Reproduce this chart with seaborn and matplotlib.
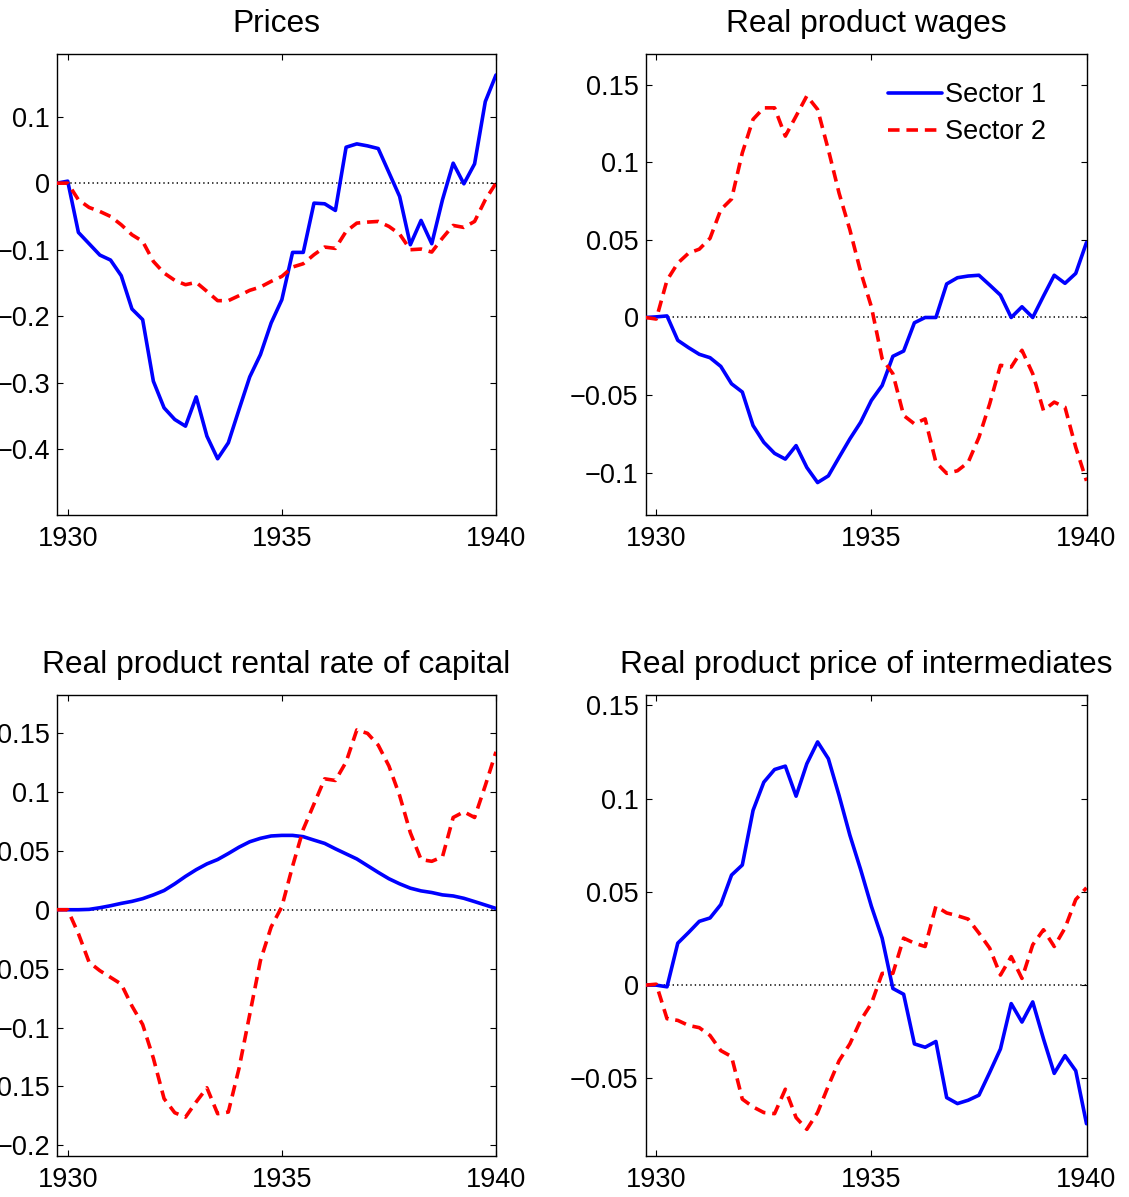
import numpy as np
import pandas as pd
import matplotlib
matplotlib.use("Agg")
import matplotlib.pyplot as plt
import seaborn as sns
from matplotlib.ticker import FuncFormatter, FixedLocator

# ---------------- data (quarterly, 1929Q4 .. 1940Q1) ----------------
quarters = np.arange(1929.75, 1940.001, 0.25)

prices_s1 = [0.0, 0.003, -0.074, -0.091, -0.108, -0.1155, -0.139, -0.189, -0.205, -0.2975,
             -0.3375, -0.355, -0.365, -0.321, -0.38, -0.414, -0.39, -0.34, -0.291, -0.2575,
             -0.21, -0.175, -0.104, -0.104, -0.03, -0.031, -0.041, 0.054, 0.059, 0.056,
             0.052, 0.016, -0.02, -0.0925, -0.056, -0.091, -0.025, 0.030, -0.001, 0.029,
             0.1225, 0.1625]
prices_s2 = [0.0, 0.0, -0.025, -0.0365, -0.0425, -0.05, -0.0625, -0.0775, -0.0875, -0.1175,
             -0.135, -0.146, -0.1525, -0.149, -0.1625, -0.1765, -0.1765, -0.169, -0.161, -0.156,
             -0.1475, -0.14, -0.126, -0.121, -0.1075, -0.096, -0.098, -0.0725, -0.06, -0.0585,
             -0.0575, -0.065, -0.0765, -0.1, -0.099, -0.1035, -0.0825, -0.0635, -0.0665, -0.0575,
             -0.025, 0.0]

wages_s1 = [0.0, 0.0004, 0.001, -0.0147, -0.0194, -0.0237, -0.0259, -0.0315, -0.0427, -0.048,
            -0.0696, -0.0804, -0.0875, -0.0912, -0.0825, -0.0966, -0.1063, -0.102, -0.090, -0.0782,
            -0.0675, -0.0534, -0.0438, -0.025, -0.0216, -0.0034, 0.0, 0.0, 0.0216, 0.0256,
            0.0267, 0.0272, 0.0209, 0.0144, 0.0, 0.0069, 0.0, 0.0138, 0.0272, 0.022,
            0.0284, 0.0483]
wages_s2 = [0.0, -0.001, 0.024, 0.035, 0.0414, 0.044, 0.051, 0.0694, 0.0763, 0.106,
            0.1276, 0.135, 0.135, 0.1168, 0.1297, 0.1427, 0.134, 0.108, 0.080, 0.0565,
            0.0295, 0.0069, -0.0265, -0.0362, -0.0631, -0.0685, -0.0653, -0.0933, -0.1004, -0.0987,
            -0.0933, -0.0772, -0.0556, -0.0308, -0.0319, -0.0211, -0.0362, -0.0599, -0.0545, -0.0578,
            -0.0836, -0.1052]

rental_s1 = [0.0, 0.0, 0.0, 0.0003, 0.0017, 0.0034, 0.0054, 0.0071, 0.0094, 0.0126,
             0.0163, 0.022, 0.0283, 0.034, 0.0389, 0.0426, 0.0477, 0.0531, 0.0577, 0.0606,
             0.0626, 0.0631, 0.0631, 0.062, 0.0591, 0.0563, 0.0517, 0.0474, 0.0431, 0.0374,
             0.0317, 0.0263, 0.022, 0.0183, 0.016, 0.0146, 0.0126, 0.0117, 0.0097, 0.0069,
             0.004, 0.0011]
rental_s2 = [0.0, 0.0, -0.0203, -0.0446, -0.0517, -0.0574, -0.0631, -0.0817, -0.0974, -0.126,
             -0.1603, -0.1723, -0.176, -0.1631, -0.1511, -0.1731, -0.1717, -0.1346, -0.0889, -0.0431,
             -0.0146, 0.0026, 0.0369, 0.0683, 0.0897, 0.1111, 0.1097, 0.1254, 0.1526, 0.1497,
             0.1397, 0.122, 0.0969, 0.0654, 0.0426, 0.0411, 0.0449, 0.0783, 0.0831, 0.0783,
             0.1054, 0.134]

interm_s1 = [0.0, 0.0, -0.0009, 0.0225, 0.0282, 0.0342, 0.036, 0.0432, 0.059, 0.0644,
             0.0937, 0.1088, 0.1156, 0.1174, 0.1013, 0.1187, 0.1304, 0.1214, 0.1016, 0.0804,
             0.062, 0.0423, 0.0252, -0.0018, -0.0049, -0.0315, -0.0333, -0.0302, -0.0603, -0.0635,
             -0.0617, -0.059, -0.0468, -0.0342, -0.0099, -0.0198, -0.009, -0.0288, -0.0473, -0.0378,
             -0.0459, -0.0743]
interm_s2 = [0.0, 0.0005, -0.018, -0.0189, -0.0216, -0.0228, -0.027, -0.0351, -0.0383, -0.0611,
             -0.0653, -0.0683, -0.0689, -0.0558, -0.071, -0.0773, -0.0683, -0.054, -0.0405, -0.0315,
             -0.0189, -0.0099, 0.0063, 0.0063, 0.0252, 0.0225, 0.0207, 0.0423, 0.0387, 0.0372,
             0.0354, 0.0279, 0.0198, 0.0054, 0.0153, 0.0036, 0.0216, 0.0297, 0.0207, 0.0306,
             0.0459, 0.0522]

titles = ["Prices", "Real product wages",
          "Real product rental rate of capital", "Real product price of intermediates"]
series_names = ["Sector 1", "Sector 2"]
xticks = [1930, 1935, 1940]
yticks = [[-0.4, -0.3, -0.2, -0.1, 0, 0.1],
          [-0.1, -0.05, 0, 0.05, 0.1, 0.15],
          [-0.2, -0.15, -0.1, -0.05, 0, 0.05, 0.1, 0.15],
          [-0.05, 0, 0.05, 0.1, 0.15]]
ylims = [(-0.498, 0.194), (-0.127, 0.170), (-0.209, 0.1825), (-0.0916, 0.1557)]
panel_data = [(prices_s1, prices_s2), (wages_s1, wages_s2),
              (rental_s1, rental_s2), (interm_s1, interm_s2)]

# ---------------- style ----------------
sns.set_style("ticks")
plt.rcParams["font.family"] = ["Liberation Sans", "DejaVu Sans"]
plt.rcParams.update({
    "xtick.direction": "in", "ytick.direction": "in",
    "xtick.top": True, "ytick.right": True,
    "xtick.major.size": 4.0, "ytick.major.size": 4.0,
    "xtick.major.width": 0.8, "ytick.major.width": 0.8,
    "axes.linewidth": 1.0, "axes.edgecolor": "black",
    "xtick.color": "black", "ytick.color": "black",
    "text.color": "black", "axes.labelcolor": "black",
    "axes.titlecolor": "black",
    "axes.unicode_minus": True,
})

W, H = 1129, 1197
fig = plt.figure(figsize=(W / 100, H / 100), dpi=100)
fig.patch.set_facecolor("white")

boxes = [(57, 54, 496, 514.7), (645.5, 53.5, 1086.5, 514.7),
         (57, 694.7, 496, 1156), (645.5, 694.7, 1086.5, 1156)]

fmt = FuncFormatter(lambda v, p: ("%g" % round(v, 4)).replace("-", "\u2212"))

axes = []
for k, (l, t, r, b) in enumerate(boxes):
    ax = fig.add_axes([l / W, 1 - b / H, (r - l) / W, (b - t) / H])
    s1, s2 = panel_data[k]
    df = pd.DataFrame({
        "year": np.concatenate([quarters, quarters]),
        "value": np.concatenate([s1, s2]),
        "sector": [series_names[0]] * len(quarters) + [series_names[1]] * len(quarters),
    })
    ax.axhline(0, color="black", lw=1.1, dashes=(0.9, 2.0), zorder=1)
    sns.lineplot(data=df, x="year", y="value", hue="sector", style="sector",
                 palette={"Sector 1": "#0000ff", "Sector 2": "#ff0000"},
                 dashes={"Sector 1": "", "Sector 2": (3.2, 1.9)},
                 linewidth=2.6, ax=ax, legend=False, zorder=3)
    ax.set_xlim(1929.75, 1940)
    ax.set_ylim(*ylims[k])
    ax.xaxis.set_major_locator(FixedLocator(xticks))
    ax.yaxis.set_major_locator(FixedLocator(yticks[k]))
    ax.xaxis.set_major_formatter(FuncFormatter(lambda v, p: "%d" % v))
    ax.yaxis.set_major_formatter(fmt)
    ax.set_xlabel("")
    ax.set_ylabel("")
    ax.tick_params(axis="both", labelsize=19.5)
    ax.tick_params(axis="x", pad=8)
    ax.tick_params(axis="y", pad=5)
    ax.set_title(titles[k], fontsize=22.9, pad=15.8)
    for sp in ax.spines.values():
        sp.set_visible(True)
        sp.set_linewidth(1.0)
    axes.append(ax)

# legend in the wages panel
ax2 = axes[1]
handles = ax2.get_lines()[1:3]
ax2.legend(handles, series_names, loc="upper left",
           bbox_to_anchor=((888 - 645.5) / 441, (514.7 - 82) / (514.7 - 53.5)),
           frameon=False, fontsize=19.5, handlelength=2.0, handletextpad=0.12,
           labelspacing=0.42, borderpad=0, borderaxespad=0)

fig.savefig("out.png", dpi=100, facecolor="white")
